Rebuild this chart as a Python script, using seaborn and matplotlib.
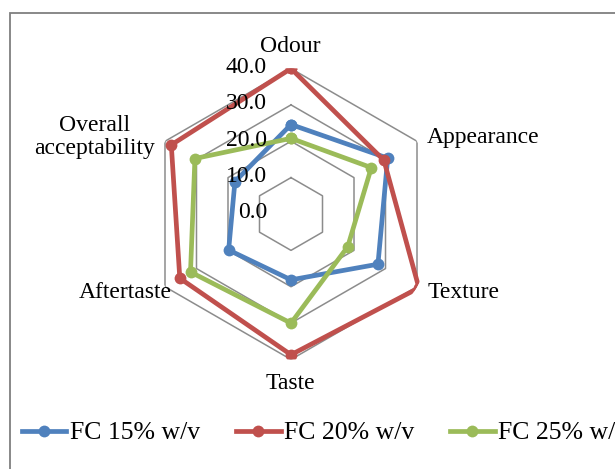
import numpy as np
import pandas as pd
import matplotlib
matplotlib.use("Agg")
import matplotlib.pyplot as plt
import matplotlib.transforms as mtransforms
from matplotlib.patches import Rectangle
from matplotlib.lines import Line2D
import seaborn as sns

# Sensory attributes (clockwise from the top) and panel scores
categories = ["Odour", "Appearance", "Texture", "Taste", "Aftertaste", "Overall\nacceptability"]
fc15 = [24.6, 30.7, 27.6, 18.1, 19.8, 17.8]
fc20 = [40.0, 29.5, 40.6, 38.7, 35.3, 38.0]
fc25 = [20.8, 25.5, 18.0, 30.0, 31.9, 30.5]
series_names = ["FC 15% w/v", "FC 20% w/v", "FC 25% w/v"]
series_colors = ["#4F81BD", "#C0504D", "#9BBB59"]
rticks = [0, 10, 20, 30, 40]
rtick_labels = ["0.0", "10.0", "20.0", "30.0", "40.0"]

W, H = 615, 469
FONT = "Liberation Serif"
FS = 17

def fx(x):
    return x / W

def fy(y):
    return 1 - y / H

n = len(categories)
angles = [2 * np.pi * i / n for i in range(n)]
closed_angles = angles + [2 * np.pi]

rows = []
for name, vals in zip(series_names, [fc15, fc20, fc25]):
    for a, v in zip(closed_angles, vals + [vals[0]]):
        rows.append({"angle": a, "score": v, "series": name})
df = pd.DataFrame(rows)

fig = plt.figure(figsize=(W / 100, H / 100), dpi=100)
fig.patch.set_facecolor("white")

# chart frame (runs off the right and bottom edges)
fig.patches.append(Rectangle((fx(9.5), -0.2), 1.2, fy(13) + 0.2, transform=fig.transFigure,
                             fill=False, ec="#7f7f7f", lw=1.3))

cx, cy, R = 291, 214, 145.5
ax = fig.add_axes([fx(cx - R), fy(cy + R), 2 * R / W, 2 * R / H], projection="polar")
ax.set_facecolor("none")
ax.set_theta_offset(np.pi / 2)
ax.set_theta_direction(-1)

# hexagonal grid
for r in rticks[1:]:
    ax.plot(closed_angles, [r] * len(closed_angles), color="#8c8c8c", lw=1.1, zorder=0)

sns.lineplot(data=df, x="angle", y="score", hue="series", palette=series_colors,
             sort=False, estimator=None, marker="o", markersize=8.5, markeredgewidth=0,
             lw=3.4, ax=ax, legend=False, zorder=3)

ax.set_ylim(0, 40)
ax.set_xticks([])
ax.set_yticks([])
ax.grid(False)
ax.spines["polar"].set_visible(False)
ax.set_xlabel("")
ax.set_ylabel("")

# radial tick labels along the Odour axis
off = mtransforms.offset_copy(ax.transData, fig=fig, x=-24, y=1, units="dots")
for r, lab in zip(rticks, rtick_labels):
    ax.text(0, r, lab, transform=off, ha="right", va="center",
            fontsize=FS, family=FONT, clip_on=False)

# category labels
label_pos = [
    (290, 47, "center", "center"),
    (427, 137, "left", "center"),
    (428, 293, "left", "center"),
    (290, 383, "center", "center"),
    (172, 293, "right", "center"),
    (95, 137, "center", "center"),
]
for cat, (x, y, ha, va) in zip(categories, label_pos):
    fig.text(fx(x), fy(y), cat, ha=ha, va=va, fontsize=FS, family=FONT,
             linespacing=1.15, multialignment="center")

handles = [Line2D([0], [0], color=c, lw=3.4, marker="o", markersize=8.5, markeredgewidth=0)
           for c in series_colors]
fig.legend(handles, series_names, loc="center left", bbox_to_anchor=(fx(21.5), fy(433)),
           ncol=3, frameon=False, prop={"family": FONT, "size": 18.5},
           handlelength=1.75, handletextpad=0.12, columnspacing=1.4,
           borderpad=0, borderaxespad=0)

fig.savefig("out.png", dpi=100)
